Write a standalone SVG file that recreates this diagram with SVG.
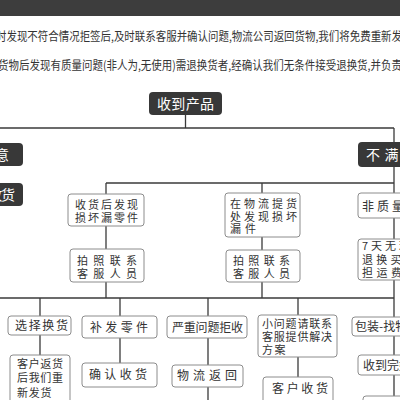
<svg xmlns="http://www.w3.org/2000/svg" width="400" height="400" viewBox="0 0 400 400">
<style>
.t{font-family:"Noto Sans CJK SC","Liberation Sans",sans-serif;fill:#333;font-size:12px}
.s{font-size:11px}
.w{font-family:"Noto Sans CJK SC","Liberation Sans",sans-serif;fill:#fff;font-size:14px}
.b{fill:#fff;stroke:#8c8c8c;stroke-width:1}
.d{fill:#383838}
.c line{stroke:#3a3a3a;stroke-width:1.3}
</style>
<rect width="400" height="400" fill="#fff"/>
<rect x="0" y="0" width="400" height="16" fill="#3d3d3d"/>
<text class="t" x="-4" y="41" font-size="10" textLength="406" lengthAdjust="spacingAndGlyphs">时发现不符合情况拒签后,及时联系客服并确认问题,物流公司返回货物,我们将免费重新发</text>
<text class="t" x="-2" y="70" font-size="10" textLength="404" lengthAdjust="spacingAndGlyphs">货物后发现有质量问题(非人为,无使用)需退换货者,经确认我们无条件接受退换货,并负责</text>
<g class="c" id="connectors">
<line x1="185.5" y1="115" x2="185.5" y2="128"/>
<line x1="0" y1="128" x2="394" y2="128"/>
<line x1="394" y1="128" x2="394" y2="400"/>
<line x1="106" y1="183" x2="394" y2="183"/>
<line x1="106" y1="183" x2="106" y2="298"/>
<line x1="262" y1="183" x2="262" y2="298"/>
<line x1="0" y1="298" x2="394" y2="298"/>
<line x1="40" y1="298" x2="40" y2="355"/>
<line x1="120" y1="298" x2="120" y2="363"/>
<line x1="208" y1="298" x2="208" y2="400"/>
<line x1="298" y1="298" x2="298" y2="377"/>
</g>
<g id="n-shou"><rect class="d" x="149" y="92" width="73" height="23" rx="4"/><text class="w" x="157" y="108.5" textLength="57">收到产品</text></g>
<g id="n-manyi"><rect class="d" x="-60" y="143" width="83" height="23" rx="4"/><text class="w" x="-19" y="159.5" textLength="28">满意</text></g>
<g id="n-queren"><rect class="d" x="-70" y="183" width="93" height="23" rx="4"/><text class="w" x="-37" y="199.5" font-size="13" textLength="52">确认收货</text></g>
<g id="n-buman"><rect class="d" x="358" y="142" width="60" height="25" rx="4"/><text class="w" x="366" y="160" font-size="15" textLength="51">不满意</text></g>
<g id="n-a1"><rect class="b" x="68" y="194" width="76" height="32" rx="3"/><text class="t s" x="75" y="208.5" textLength="63">收货后发现</text><text class="t s" x="75" y="221.5" textLength="63">损坏漏零件</text></g>
<g id="n-a2"><rect class="b" x="70" y="249" width="74" height="33" rx="3"/><text class="t s" x="77" y="264.5" textLength="60">拍照联系</text><text class="t s" x="77" y="277.5" textLength="60">客服人员</text></g>
<g id="n-b1"><rect class="b" x="225" y="193" width="75" height="44" rx="3"/><text class="t s" x="230" y="208" textLength="67">在物流提货</text><text class="t s" x="230" y="220.5" textLength="67">处发现损坏</text><text class="t s" x="230" y="233" textLength="26">漏件</text></g>
<g id="n-b2"><rect class="b" x="226" y="250" width="74" height="32" rx="3"/><text class="t s" x="233" y="265" textLength="57">拍照联系</text><text class="t s" x="233" y="278" textLength="57">客服人员</text></g>
<g id="n-c1"><rect class="b" x="358" y="193" width="60" height="25" rx="3"/><text class="t" x="362" y="210.5" textLength="72">非质量问题</text></g>
<g id="n-c2"><rect class="b" x="358" y="239" width="60" height="41" rx="3"/><text class="t s" x="362" y="250" textLength="62">7天无理由</text><text class="t s" x="362" y="263.5" textLength="68">退换买家承</text><text class="t s" x="362" y="277" textLength="40">担运费</text></g>
<g id="n-d1"><rect class="b" x="8" y="316" width="63" height="19" rx="3"/><text class="t" x="15" y="330" textLength="53">选择换货</text></g>
<g id="n-d2"><rect class="b" x="10" y="355" width="60" height="52" rx="3"/><text class="t s" x="17" y="367.5" textLength="46">客户返货</text><text class="t s" x="17" y="382" textLength="46">后我们重</text><text class="t s" x="17" y="396.5" textLength="34.5">新发货</text></g>
<g id="n-e1"><rect class="b" x="82" y="316" width="75" height="22" rx="3"/><text class="t" x="90" y="331.5" textLength="58">补发零件</text></g>
<g id="n-e2"><rect class="b" x="82" y="363" width="75" height="24" rx="3"/><text class="t" x="89" y="379" textLength="58">确认收货</text></g>
<g id="n-f1"><rect class="b" x="167" y="316" width="80" height="22" rx="3"/><text class="t" x="172" y="331.5" textLength="71">严重问题拒收</text></g>
<g id="n-f2"><rect class="b" x="172" y="365" width="71" height="22" rx="3"/><text class="t" x="177" y="380" textLength="60">物流返回</text></g>
<g id="n-g1"><rect class="b" x="258" y="315" width="79" height="42" rx="3"/><text class="t s" x="262" y="327.5" textLength="70">小问题请联系</text><text class="t s" x="262" y="340.5" textLength="70">客服提供解决</text><text class="t s" x="262" y="353.5" textLength="23.5">方案</text></g>
<g id="n-g2"><rect class="b" x="263" y="377" width="70" height="30" rx="3"/><text class="t" x="272" y="392.5" textLength="56">客户收货</text></g>
<g id="n-h1"><rect class="b" x="352" y="317" width="60" height="19" rx="3"/><text class="t" x="355" y="330.5">包装-找物流</text></g>
<g id="n-h2"><rect class="b" x="358" y="355" width="60" height="20" rx="3"/><text class="t" x="363" y="369.5">收到完好</text></g>
<g id="n-h3"><rect class="b" x="363" y="396" width="50" height="12" rx="3"/></g>
</svg>
